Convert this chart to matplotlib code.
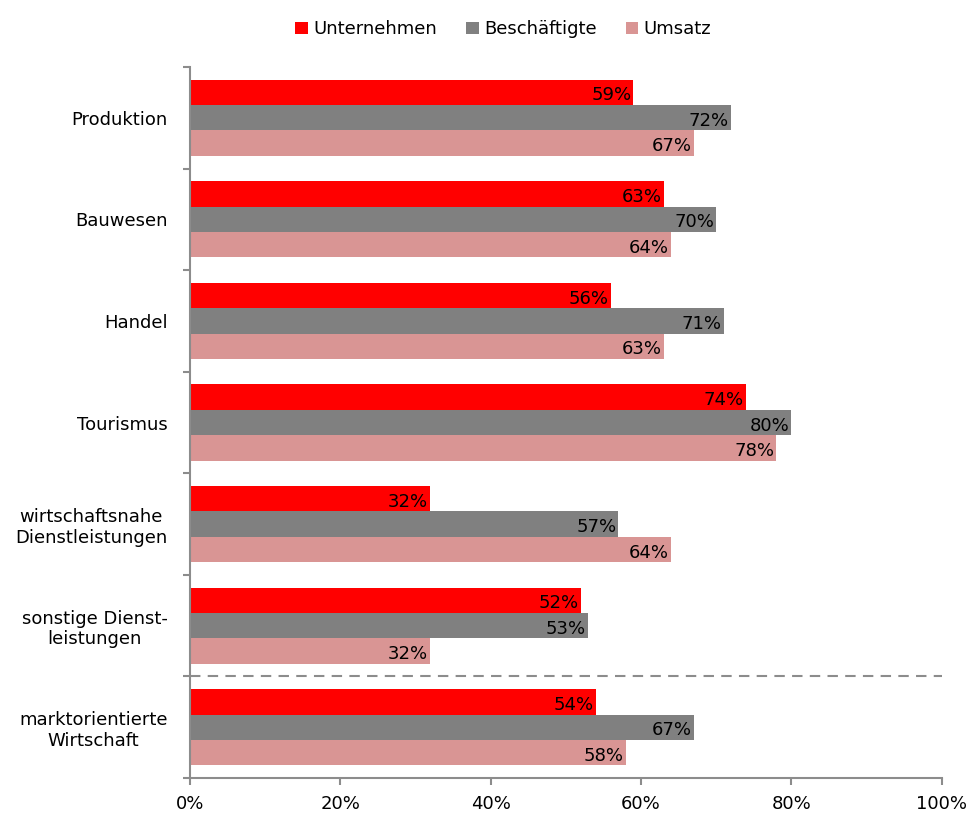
import numpy as np
import matplotlib.pyplot as plt
from matplotlib.ticker import FuncFormatter

# data
categories = ["Produktion", "Bauwesen", "Handel", "Tourismus",
              "wirtschaftsnahe\nDienstleistungen", "sonstige Dienst-\nleistungen",
              "marktorientierte\nWirtschaft"]
series_names = ["Unternehmen", "Beschäftigte", "Umsatz"]
unternehmen = [59, 63, 56, 74, 32, 52, 54]
beschaeftigte = [72, 70, 71, 80, 57, 53, 67]
umsatz = [67, 64, 63, 78, 64, 32, 58]
colors = ["#FF0000", "#808080", "#D99594"]

fig = plt.figure(figsize=(9.68, 8.14), dpi=100)
ax = fig.add_axes([0.196, 0.0442, 0.777, 0.8735])

y = np.arange(len(categories))
h = 0.25
spine_col = "#8C8C8C"

for k, (vals, name, c) in enumerate(zip([unternehmen, beschaeftigte, umsatz], series_names, colors)):
    pos = y + (k - 1) * h
    ax.barh(pos, vals, height=h, color=c, label=name, edgecolor="none")
    for p, v in zip(pos, vals):
        ax.text(v - 0.3, p + 0.03, f"{v}%", ha="right", va="center", fontsize=13, color="black")

ax.set_xlim(0, 100)
ax.set_ylim(len(categories) - 0.5, -0.5)

ax.set_xticks(np.arange(0, 101, 20))
ax.xaxis.set_major_formatter(FuncFormatter(lambda v, _: f"{v:.0f}%"))
ax.set_yticks(np.arange(-0.5, len(categories), 1.0))
ax.set_yticklabels([])
ax.set_yticks(y, minor=True)
ax.set_yticklabels(categories, minor=True, fontsize=13, multialignment="center")
ax.tick_params(axis="y", which="minor", length=0, pad=16)
ax.tick_params(axis="y", which="major", length=5, width=1.5, color=spine_col, direction="out")
ax.tick_params(axis="x", length=5, width=1.5, color=spine_col, direction="out", labelsize=13, pad=7)

for s in ["top", "right"]:
    ax.spines[s].set_visible(False)
for s in ["left", "bottom"]:
    ax.spines[s].set_color(spine_col)
    ax.spines[s].set_linewidth(1.5)

# separator before the total
ax.axhline(len(categories) - 1.5, color="#8C8C8C", lw=1.5, ls=(0, (5, 3.5)), xmin=0, xmax=1, clip_on=False)

fig.legend(loc="upper center", bbox_to_anchor=(0.52, 0.995), ncol=3, frameon=False,
           fontsize=13, handlelength=0.7, handleheight=0.7, handletextpad=0.3, columnspacing=1.6)

fig.savefig("out.png", dpi=100)
